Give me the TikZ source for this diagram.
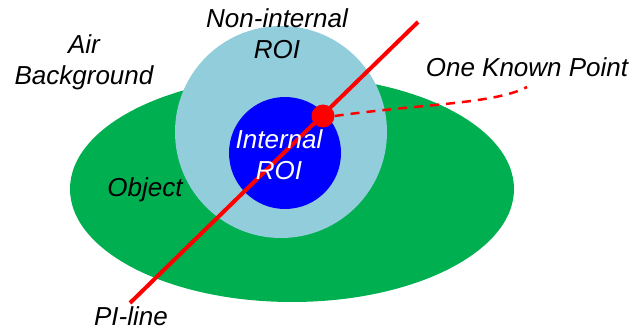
\documentclass[tikz,border=0pt]{standalone}
\usepackage{fontspec}
\setmainfont{Liberation Sans}
\definecolor{objgreen}{RGB}{0,176,80}
\definecolor{roiblue}{RGB}{146,205,220}
\definecolor{intblue}{RGB}{0,0,255}
\begin{document}
\begin{tikzpicture}[x=1pt,y=-1pt,
  lbl/.style={font=\fontsize{26}{31}\selectfont\itshape, align=center, inner sep=0pt},
  redline/.style={draw=red, line width=4pt},
  dashline/.style={draw=red, line width=2.5pt, dash pattern=on 9pt off 7pt}]
\useasboundingbox (0,0) rectangle (635,331);
\fill[objgreen] (292,189) ellipse [x radius=222, y radius=113];
\fill[roiblue] (281,132) circle [radius=106];
\fill[intblue] (285,153) circle [radius=56];
\coordinate (lb) at (130,303);
\coordinate (lt) at (418,22);
\draw[redline] (lb) -- (lt);
\node[circle, fill=red, minimum size=23pt, inner sep=0pt] (kp) at (323,116) {};
\coordinate (ke) at (527,87);
\draw[dashline] (kp.east) .. controls (420,104) and (495,104) .. (ke);
\node[lbl] (air) at (84,62) {Air\\Background};
\node[lbl] (nir) at (277,34) {Non-internal\\ROI};
\node[lbl, text=white] (ir) at (279,155) {Internal\\ROI};
\node[lbl] (obj) at (145,190) {Object};
\node[lbl] (kpl) at (527,67) {One Known Point};
\node[lbl] (pil) at (131,316) {PI-line};
\end{tikzpicture}
\end{document}
